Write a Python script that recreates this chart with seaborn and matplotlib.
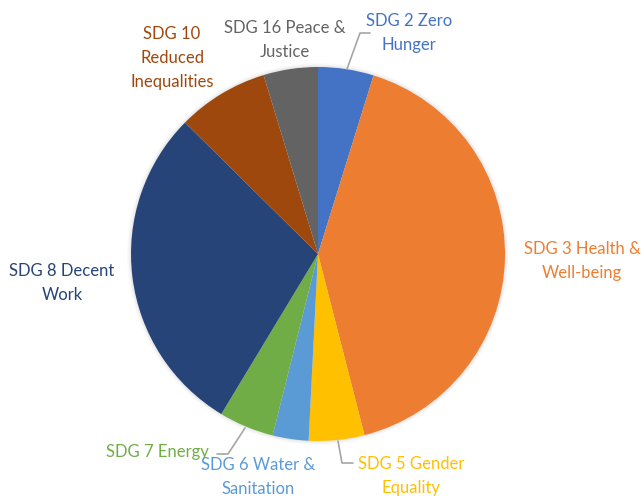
import matplotlib
matplotlib.use("Agg")
import matplotlib.pyplot as plt
import matplotlib.transforms as mtransforms
from matplotlib.patches import Circle
import seaborn as sns

categories = ["SDG 2 Zero Hunger", "SDG 3 Health & Well-being", "SDG 5 Gender Equality",
              "SDG 6 Water & Sanitation", "SDG 7 Energy", "SDG 8 Decent Work",
              "SDG 10 Reduced Inequalities", "SDG 16 Peace & Justice"]
shares = [4.8, 41.2, 4.8, 3.1, 4.75, 28.75, 7.9, 4.7]
label_texts = ["SDG 2 Zero\nHunger", "SDG 3 Health &\nWell-being", "SDG 5 Gender\nEquality",
               "SDG 6 Water &\nSanitation", "SDG 7 Energy", "SDG 8 Decent\nWork",
               "SDG 10\nReduced\nInequalities", "SDG 16 Peace &\nJustice"]
colors = ["#4472C4", "#ED7D31", "#FFC000", "#5B9BD5", "#70AD47", "#264478", "#9E480E", "#636363"]

sns.set_theme(style="white")
plt.rcParams['font.family'] = ['Lato', 'DejaVu Sans']

W, H = 641, 498
fig = plt.figure(figsize=(W / 100, H / 100), dpi=100)
ax = fig.add_axes([0, 0, 1, 1])

cx, cy, R = 318, 254, 187
# soft shadow
for i, a in zip(range(4, 0, -1), [0.015, 0.02, 0.025, 0.03]):
    ax.add_patch(Circle((cx, cy), R + i, color="black", alpha=a, lw=0, zorder=0))

wedges, _ = ax.pie(shares, colors=sns.color_palette(colors), startangle=90, counterclock=False,
                   radius=R, center=(cx, -cy), wedgeprops=dict(linewidth=0))
flip = mtransforms.Affine2D().scale(1, -1) + ax.transData
for w in wedges:
    w.set_transform(flip)
    w.set_zorder(2)
ax.set_xlim(0, W)
ax.set_ylim(H, 0)
ax.set_aspect("equal")
ax.axis("off")

# label positions (x, y, ha)
pos = [(409, 33, "center"), (582, 261, "center"), (411, 476, "center"),
       (258, 477, "center"), (209, 452, "right"), (62, 283, "center"),
       (172, 58, "center"), (285, 40, "center")]
for txt, (x, y, ha), c in zip(label_texts, pos, colors):
    ax.text(x, y, txt, ha=ha, va="center", color=c, fontsize=12, linespacing=1.6)

lc = "#A6A6A6"
ax.plot([347, 360, 370], [69, 33, 33], color=lc, lw=1.2)
ax.plot([245, 228, 217], [428, 454, 454], color=lc, lw=1.2)
ax.plot([338, 342, 353], [441, 463, 463], color=lc, lw=1.2)

fig.savefig("out.png", dpi=100)
